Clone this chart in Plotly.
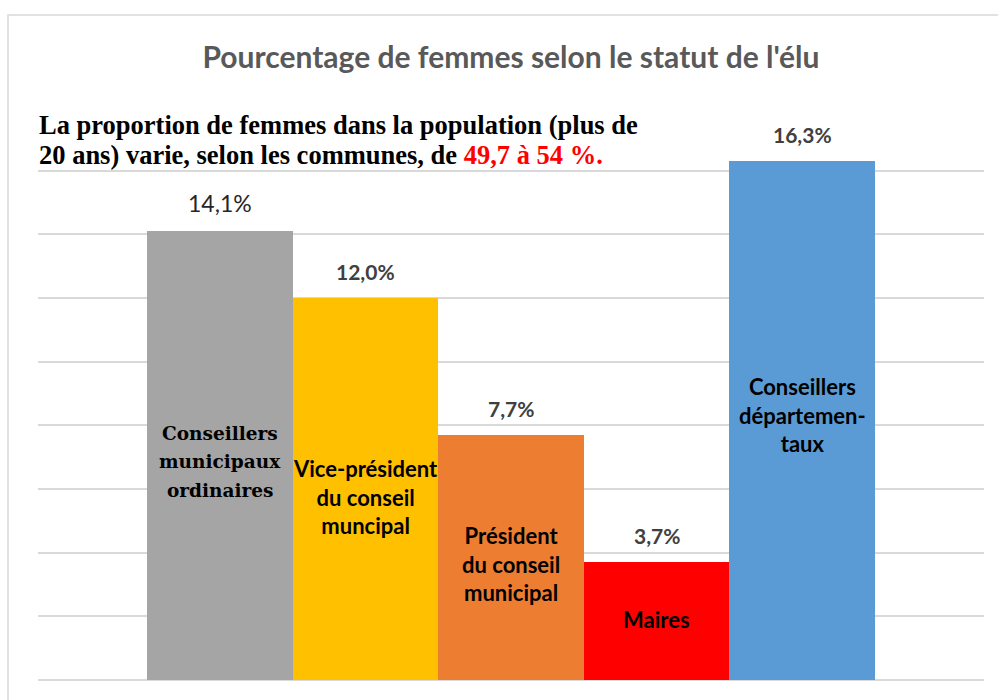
import plotly.graph_objects as go

# ---- data ----
categories = ["Conseillers municipaux ordinaires", "Vice-président du conseil muncipal",
              "Président du conseil municipal", "Maires", "Conseillers départementaux"]
inner_labels = ["Conseillers<br>municipaux<br>ordinaires", "Vice-président<br>du conseil<br>muncipal",
                "Président<br>du conseil<br>municipal", "Maires", "Conseillers<br>départemen-<br>taux"]
values = [14.1, 12.0, 7.7, 3.7, 16.3]
value_labels = ["14,1%", "12,0%", "7,7%", "3,7%", "16,3%"]
colors = ["#a5a5a5", "#ffc000", "#ed7d31", "#ff0000", "#5b9bd5"]
positions = [0, 1, 2, 3, 4]

title_text = "Pourcentage de femmes selon le statut de l'élu"
note_line1 = "La proportion de femmes dans la population (plus de"
note_line2 = "20 ans) varie, selon les communes, de <span style='color:#ff0000'>49,7 à 54 %.</span>"

SANS = "Lato, 'Open Sans', sans-serif"
SERIF = "Liberation Serif"
LABEL_SERIF = "DejaVu Serif"

fig = go.Figure()
fig.add_trace(go.Bar(
    x=positions, y=values, width=1,
    marker=dict(color=colors, line=dict(width=0)),
    hoverinfo="skip",
))

# value labels above bars
for i, (p, v, t) in enumerate(zip(positions, values, value_labels)):
    fig.add_annotation(
        x=p, y=v, text=t, showarrow=False, yanchor="bottom", yshift=12,
        font=dict(family=SANS, size=23 if i == 0 else 21,
                  color="#262626" if i == 0 else "#404040",
                  weight="normal" if i == 0 else "bold"),
    )

# labels inside bars
inner_frac = [0.486, 0.479, 0.473, 0.51, 0.51]
for i, (p, v, t) in enumerate(zip(positions, values, inner_labels)):
    if i == 0:
        lines = t.split("<br>")
        n = len(lines)
        for k, line in enumerate(lines):
            fig.add_annotation(
                x=p, y=v * inner_frac[i], text=line, showarrow=False, yanchor="middle",
                yshift=((n - 1) / 2 - k) * 28.5,
                font=dict(family=LABEL_SERIF, size=18.5, color="#000000", weight="bold"),
            )
    else:
        fig.add_annotation(
            x=p, y=v * inner_frac[i], text=t, showarrow=False, yanchor="middle",
            font=dict(family=SANS, size=22, color="#000000", weight="bold"), align="center",
        )

# note text (two lines)
fig.add_annotation(xref="paper", yref="paper", x=-0.001, y=(680 - 125) / 573,
                   text=note_line1, showarrow=False, xanchor="left", yanchor="middle",
                   font=dict(family=SERIF, size=26.5, color="#000000", weight="bold"))
fig.add_annotation(xref="paper", yref="paper", x=-0.001, y=(680 - 155) / 573,
                   text=note_line2, showarrow=False, xanchor="left", yanchor="middle",
                   font=dict(family=SERIF, size=26.5, color="#000000", weight="bold"))

# outer chart border
fig.add_shape(type="rect", xref="paper", yref="paper",
              x0=(8 - 38) / 946, x1=(1010 - 38) / 946,
              y0=(680 - 720) / 573, y1=(680 - 15) / 573,
              line=dict(color="#d9d9d9", width=1.5), fillcolor="rgba(0,0,0,0)", layer="below")

fig.update_layout(
    width=998, height=700,
    margin=dict(l=38, r=14, t=107, b=20),
    paper_bgcolor="#ffffff", plot_bgcolor="#ffffff",
    showlegend=False,
    bargap=0,
    title=dict(text=title_text, x=(511) / 998, xanchor="center", y=1 - 57 / 700, yanchor="middle",
               font=dict(family=SANS, size=30, color="#595959", weight="bold")),
    xaxis=dict(range=[-1.25, 5.25], showticklabels=False, showgrid=False, zeroline=False,
               showline=False, ticks="", fixedrange=True),
    yaxis=dict(range=[0, 18], dtick=2, tick0=0, showticklabels=False, showgrid=True,
               gridcolor="#d9d9d9", gridwidth=1.5, zeroline=True, zerolinecolor="#d9d9d9",
               zerolinewidth=1.5, showline=False, ticks="", fixedrange=True),
)

fig.write_html("out.html", config={"displayModeBar": False},
               post_script="document.body.style.margin='0';document.body.style.overflow='hidden';")
